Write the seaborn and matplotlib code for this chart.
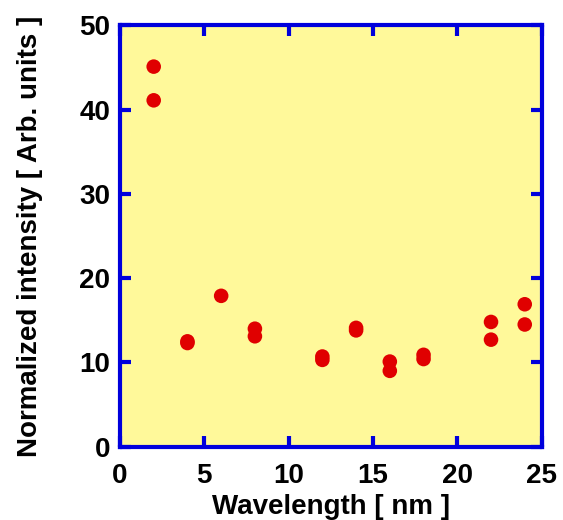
import numpy as np
import pandas as pd
import seaborn as sns
import matplotlib
matplotlib.use("Agg")
import matplotlib.pyplot as plt

# data
wavelength = [2, 2, 4, 4, 6, 8, 8, 12, 12, 14, 14, 16, 16, 18, 18, 22, 22, 24, 24]
intensity = [45.1, 41.1, 12.3, 12.5, 17.9, 14.0, 13.1, 10.7, 10.3, 14.1, 13.8,
             10.1, 9.0, 10.9, 10.4, 14.8, 12.7, 16.9, 14.5]
x_ticks = [0, 5, 10, 15, 20, 25]
y_ticks = [0, 10, 20, 30, 40, 50]

df = pd.DataFrame({"wavelength": wavelength, "intensity": intensity})

sns.set_style("ticks")
plt.rcParams['font.family'] = ['Liberation Sans', 'DejaVu Sans']
plt.rcParams['text.color'] = 'black'
plt.rcParams['axes.labelcolor'] = 'black'
plt.rcParams['xtick.labelcolor'] = 'black'
plt.rcParams['ytick.labelcolor'] = 'black'

blue = "#0000dc"
fig = plt.figure(figsize=(5.63, 5.20), dpi=100)
ax = fig.add_axes([0.2131, 0.141, 0.7489, 0.8103])
ax.set_facecolor("#fff99a")

sns.scatterplot(data=df, x="wavelength", y="intensity", ax=ax,
                color="#e00000", s=110, edgecolor="none", zorder=3)

ax.set_xlim(0, 25)
ax.set_ylim(0, 50)
ax.set_xticks(x_ticks)
ax.set_yticks(y_ticks)
for sp in ax.spines.values():
    sp.set_color(blue)
    sp.set_linewidth(3)
ax.tick_params(direction="in", length=8, width=3, color=blue,
               top=True, right=True, labelsize=20)
ax.tick_params(axis="x", pad=12)
ax.tick_params(axis="y", pad=7)
for lab in ax.get_xticklabels() + ax.get_yticklabels():
    lab.set_fontweight("bold")

ax.set_xlabel("Wavelength [ nm ]", fontsize=20, fontweight="bold", labelpad=3)
ax.set_ylabel("Normalized intensity [ Arb. units ]", fontsize=20, fontweight="bold", labelpad=26)

plt.savefig("out.png", dpi=100)
